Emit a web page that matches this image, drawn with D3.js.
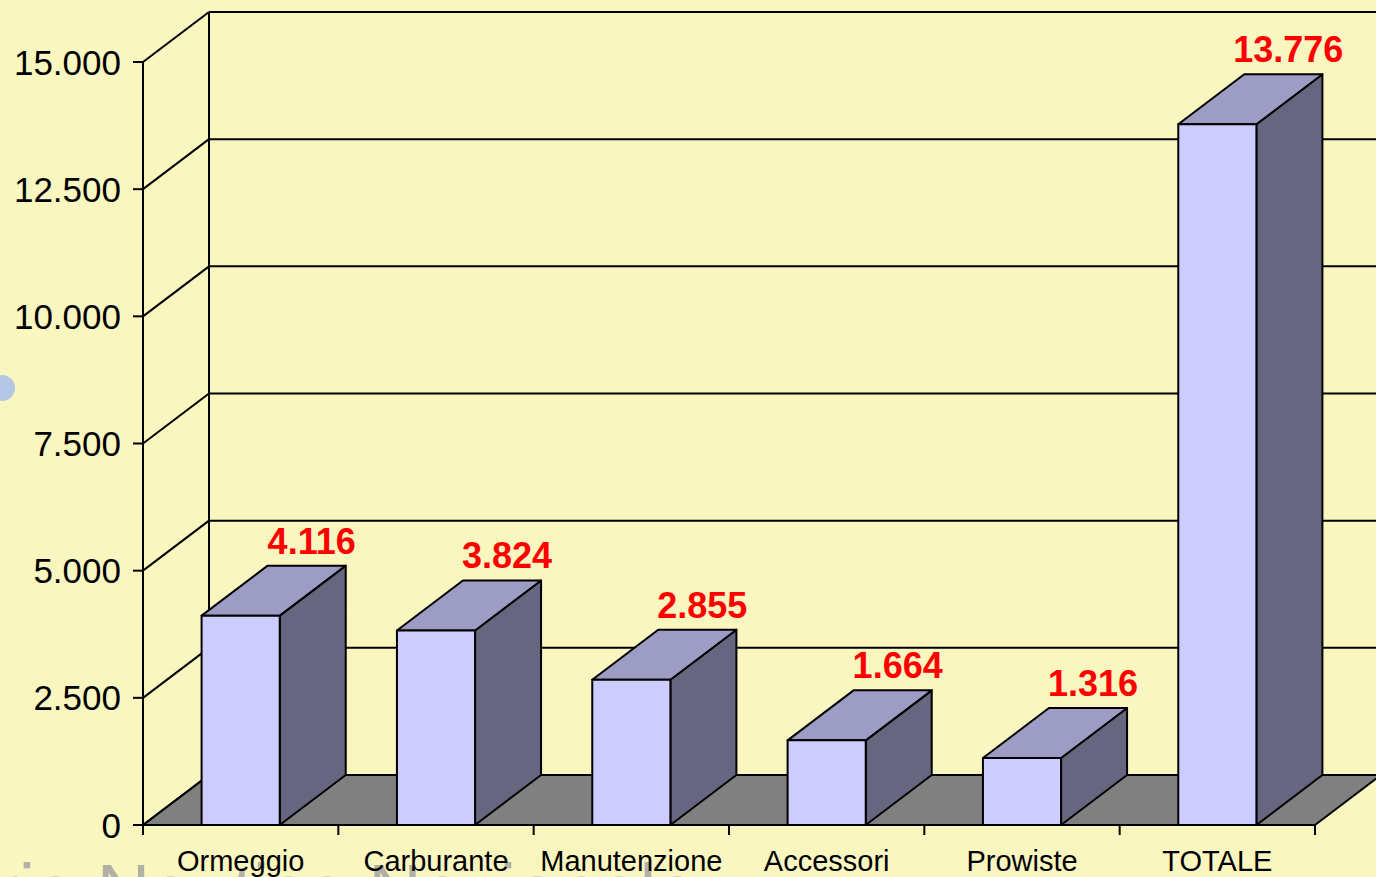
<!DOCTYPE html>
<html>
<head>
<meta charset="utf-8">
<script src="https://cdn.jsdelivr.net/npm/d3@7"></script>
<style>
  html, body { margin: 0; padding: 0; background: #F9F6C0; overflow: hidden; }
  svg { display: block; }
  text { font-family: "Liberation Sans", Arial, sans-serif; }
</style>
</head>
<body>
<svg id="chart" width="1376" height="877"></svg>
<script>
const categories = ["Ormeggio", "Carburante", "Manutenzione", "Accessori", "Prowiste", "TOTALE"];
const values = [4116, 3824, 2855, 1664, 1316, 13776];
const valueLabels = ["4.116", "3.824", "2.855", "1.664", "1.316", "13.776"];
const yTicks = [0, 2500, 5000, 7500, 10000, 12500, 15000];
const yTickLabels = ["0", "2.500", "5.000", "7.500", "10.000", "12.500", "15.000"];

(function () {
const W = 1376, H = 877;
const plotLeft = 143, plotRight = 1315, plotBottom = 825, plotTop = 62;
const DX = 66, DY = -50;

const svg = d3.select("#chart");

// background
svg.append("rect").attr("width", W).attr("height", H).attr("fill", "#F9F6C0");
// decorative slide elements
svg.append("circle").attr("cx", 2).attr("cy", 388).attr("r", 13).attr("fill", "#B4C7E7");
svg.append("text").attr("x", -6).attr("y", 916).attr("font-size", 74)
  .attr("fill", "#B2B1A6").text("ria Nautica Nazionale");

const x = d3.scaleBand().domain(categories).range([plotLeft, plotRight])
  .paddingInner(0.6).paddingOuter(0.3);
const y = d3.scaleLinear().domain([0, 15000]).range([plotBottom, plotTop]);

const stroke = "#000";
const sw = 2;

// floor
const floor = [[plotLeft, plotBottom], [plotLeft + DX, plotBottom + DY], [plotRight + DX, plotBottom + DY], [plotRight, plotBottom]];
svg.append("polygon").attr("points", floor.map(p => p.join(",")).join(" "))
  .attr("fill", "#808080").attr("stroke", stroke).attr("stroke-width", sw).attr("stroke-linejoin", "round");

// back wall gridlines
svg.append("g").selectAll("line").data(yTicks).join("line")
  .attr("x1", plotLeft + DX).attr("x2", plotRight + DX + 10)
  .attr("y1", d => y(d) + DY).attr("y2", d => y(d) + DY)
  .attr("stroke", stroke).attr("stroke-width", sw);
// left wall diagonals
svg.append("g").selectAll("line").data(yTicks).join("line")
  .attr("x1", plotLeft).attr("x2", plotLeft + DX)
  .attr("y1", d => y(d)).attr("y2", d => y(d) + DY)
  .attr("stroke", stroke).attr("stroke-width", sw);
// back wall left vertical
svg.append("line").attr("x1", plotLeft + DX).attr("x2", plotLeft + DX)
  .attr("y1", y(15000) + DY).attr("y2", y(0) + DY)
  .attr("stroke", stroke).attr("stroke-width", sw);

const rows = categories.map((c, i) => ({c, v: values[i], l: valueLabels[i]}));

// bars
svg.append("g").selectAll("g").data(rows).join("g").each(function(d) {
  const g = d3.select(this);
  const x0 = x(d.c), x1 = x(d.c) + x.bandwidth();
  const y0 = y(0), y1 = y(d.v);
  const poly = (pts, fill) => g.append("polygon")
    .attr("points", pts.map(p => p.join(",")).join(" "))
    .attr("fill", fill).attr("stroke", stroke).attr("stroke-width", sw).attr("stroke-linejoin", "round");
  poly([[x1, y0], [x1 + DX, y0 + DY], [x1 + DX, y1 + DY], [x1, y1]], "#666680");
  poly([[x0, y1], [x0 + DX, y1 + DY], [x1 + DX, y1 + DY], [x1, y1]], "#9C9CC4");
  poly([[x0, y0], [x1, y0], [x1, y1], [x0, y1]], "#CCCCFF");
});

// value labels
svg.append("g").selectAll("text").data(rows).join("text")
  .attr("x", d => x(d.c) + x.bandwidth() / 2 + 71)
  .attr("y", d => y(d.v) + DY - 12)
  .attr("text-anchor", "middle")
  .attr("font-size", 36).attr("font-weight", "bold").attr("fill", "#FF0000")
  .text(d => d.l);

// y axis (front left)
svg.append("line").attr("x1", plotLeft).attr("x2", plotLeft).attr("y1", plotTop).attr("y2", plotBottom)
  .attr("stroke", stroke).attr("stroke-width", sw);
const yg = svg.append("g");
yg.selectAll("line").data(yTicks).join("line")
  .attr("x1", plotLeft - 10).attr("x2", plotLeft).attr("y1", d => y(d)).attr("y2", d => y(d))
  .attr("stroke", stroke).attr("stroke-width", sw);
yg.selectAll("text").data(yTicks).join("text")
  .attr("x", plotLeft - 22).attr("y", d => y(d)).attr("dy", "0.36em")
  .attr("text-anchor", "end").attr("font-size", 35).attr("fill", "#000")
  .text((d, i) => yTickLabels[i]);

// x axis (front bottom)
svg.append("line").attr("x1", plotLeft).attr("x2", plotRight).attr("y1", plotBottom).attr("y2", plotBottom)
  .attr("stroke", stroke).attr("stroke-width", sw);
const step = x.step();
const bounds = d3.range(categories.length + 1).map(i => plotLeft + i * step);
svg.append("g").selectAll("line").data(bounds).join("line")
  .attr("x1", d => d).attr("x2", d => d).attr("y1", plotBottom).attr("y2", plotBottom + 10)
  .attr("stroke", stroke).attr("stroke-width", sw);
svg.append("g").selectAll("text").data(categories).join("text")
  .attr("x", d => x(d) + x.bandwidth() / 2).attr("y", 871)
  .attr("text-anchor", "middle").attr("font-size", 29).attr("fill", "#000")
  .text(d => d);
})();
</script>
</body>
</html>
